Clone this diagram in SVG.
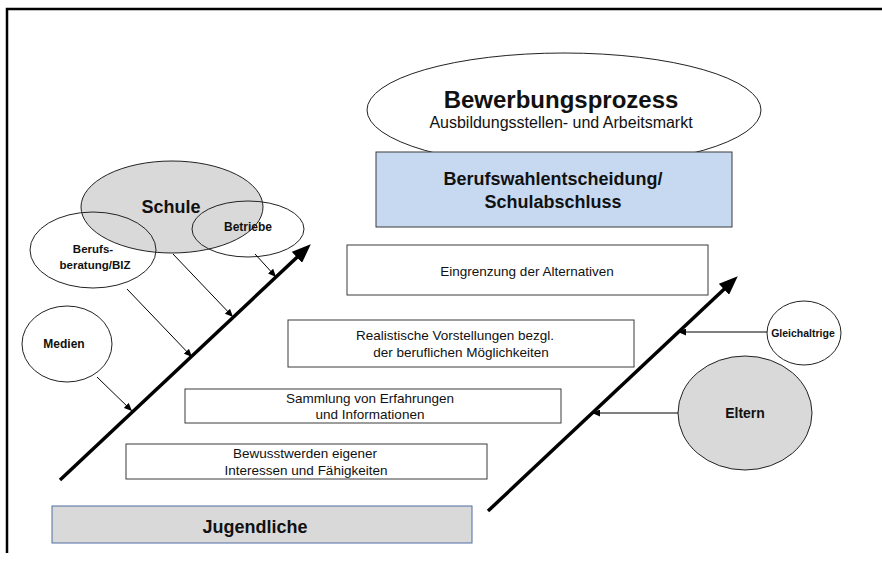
<svg xmlns="http://www.w3.org/2000/svg" width="882" height="563" viewBox="0 0 882 563">
  <style>
    text { font-family: "Liberation Sans", Arial, sans-serif; fill: #111; text-anchor: middle; }
    .b { font-weight: bold; }
    .box { fill: #ffffff; stroke: #3a3a3a; stroke-width: 1; }
    .ell { fill: none; stroke: #222; stroke-width: 1; }
    .grey { fill: #d9d9d9; stroke: #222; stroke-width: 1; }
    .thin { stroke: #000; stroke-width: 1; fill: none; marker-end: url(#ah); }
    .thick { stroke: #000; stroke-width: 3.5; fill: none; marker-end: url(#bigah); }
    .t13 { font-size: 13.5px; }
  </style>
  <defs>
    <marker id="ah" markerUnits="userSpaceOnUse" markerWidth="8" markerHeight="7" refX="8" refY="3.5" orient="auto">
      <path d="M0,0 L8,3.5 L0,7 z" fill="#000"/>
    </marker>
    <marker id="bigah" markerUnits="userSpaceOnUse" markerWidth="19" markerHeight="15" refX="10" refY="7.5" orient="auto">
      <path d="M0,0 L19,7.5 L0,15 z" fill="#000"/>
    </marker>
  </defs>

  <rect width="882" height="563" fill="#ffffff"/>

  <!-- frame -->
  <path d="M7,553 L7,9 L882,9" fill="none" stroke="#000" stroke-width="2.5"/>

  <!-- top: application process -->
  <g id="bewerbungsprozess">
    <ellipse class="ell" cx="564" cy="110" rx="197" ry="57" fill="#fff"/>
    <text class="b" x="561" y="108" font-size="24">Bewerbungsprozess</text>
    <text x="561" y="128" font-size="16">Ausbildungsstellen- und Arbeitsmarkt</text>
  </g>

  <g id="berufswahlentscheidung">
    <rect x="376" y="152" width="356" height="75" fill="#c6d9f1" stroke="#3a3a3a" stroke-width="1"/>
    <text class="b" x="553" y="185" font-size="18">Berufswahlentscheidung/</text>
    <text class="b" x="553" y="208" font-size="18">Schulabschluss</text>
  </g>

  <!-- stages -->
  <g id="eingrenzung">
    <rect class="box" x="347" y="245" width="361" height="50"/>
    <text class="t13" x="527" y="276">Eingrenzung der Alternativen</text>
  </g>

  <g id="vorstellungen">
    <rect class="box" x="288" y="320" width="346" height="47"/>
    <text class="t13" x="455" y="340">Realistische Vorstellungen bezgl.</text>
    <text class="t13" x="461" y="357">der beruflichen Möglichkeiten</text>
  </g>

  <g id="sammlung">
    <rect class="box" x="185" y="389" width="376" height="34"/>
    <text class="t13" x="370" y="403">Sammlung von Erfahrungen</text>
    <text class="t13" x="370" y="419">und Informationen</text>
  </g>

  <g id="bewusstwerden">
    <rect class="box" x="126" y="444" width="361" height="35"/>
    <text class="t13" x="305" y="458">Bewusstwerden eigener</text>
    <text class="t13" x="306" y="475">Interessen und Fähigkeiten</text>
  </g>

  <g id="jugendliche">
    <rect x="52" y="506" width="420" height="37" fill="#d9d9d9" stroke="#4f6fa3" stroke-width="1"/>
    <text class="b" x="255" y="533" font-size="18">Jugendliche</text>
  </g>

  <!-- influences on the left -->
  <g id="schule">
    <ellipse class="grey" cx="172" cy="207" rx="91" ry="46"/>
    <text class="b" x="171" y="213" font-size="18">Schule</text>
  </g>

  <g id="betriebe">
    <ellipse class="ell" cx="248" cy="229" rx="56" ry="28"/>
    <text class="b" x="248" y="231" font-size="12">Betriebe</text>
  </g>

  <g id="berufsberatung">
    <ellipse class="ell" cx="93" cy="250" rx="63" ry="38"/>
    <text class="b" x="93" y="253" font-size="11.5">Berufs-</text>
    <text class="b" x="95" y="269" font-size="11.5">beratung/BIZ</text>
  </g>

  <g id="medien">
    <ellipse class="ell" cx="67" cy="344" rx="45" ry="38"/>
    <text class="b" x="64" y="348" font-size="12">Medien</text>
  </g>

  <!-- influences on the right -->
  <g id="gleichaltrige">
    <ellipse class="ell" cx="804" cy="333" rx="37" ry="32"/>
    <text class="b" x="803" y="337" font-size="10.5">Gleichaltrige</text>
  </g>

  <g id="eltern">
    <ellipse class="grey" cx="745" cy="413" rx="67" ry="57"/>
    <text class="b" x="745" y="418" font-size="14">Eltern</text>
  </g>

  <!-- connectors -->
  <g id="connectors">
    <line class="thick" x1="60" y1="480" x2="304.2" y2="250.5"/>
    <line class="thick" x1="488" y1="511" x2="731.2" y2="282.5"/>
    <line class="thin" x1="255" y1="254" x2="276" y2="277"/>
    <line class="thin" x1="173" y1="254" x2="233" y2="317"/>
    <line class="thin" x1="127" y1="289" x2="192" y2="357"/>
    <line class="thin" x1="97" y1="377" x2="132" y2="411"/>
    <line class="thin" x1="767" y1="332" x2="678" y2="332"/>
    <line class="thin" x1="678" y1="413" x2="592" y2="413"/>
  </g>
</svg>
